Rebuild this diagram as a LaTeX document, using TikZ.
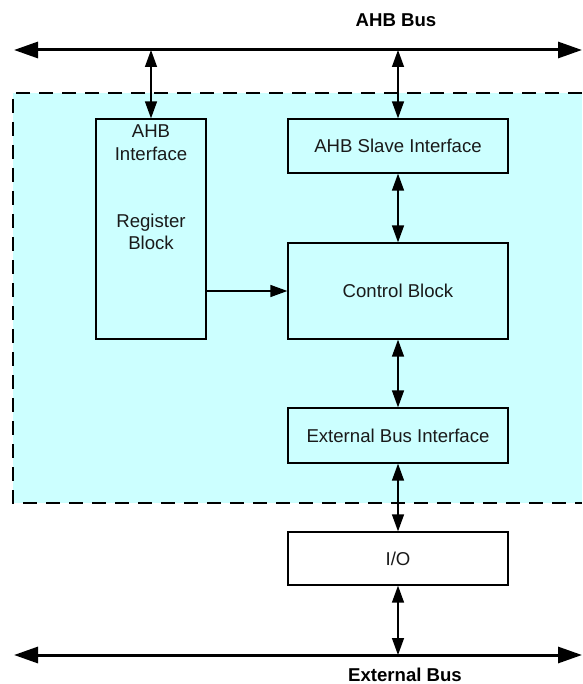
\documentclass[tikz,border=0pt]{standalone}
\usepackage{fontspec}
\setmainfont{Liberation Sans}
\usetikzlibrary{arrows.meta}
\definecolor{panel}{HTML}{CCFFFF}
\definecolor{ink}{HTML}{1A1A1A}
\tikzset{
  blk/.style={draw=black, line width=1.3pt, minimum width=220pt, inner sep=0pt, font=\fontsize{18.6}{22}\selectfont, text=ink},
  lbl/.style={inner sep=0pt, font=\fontsize{18.6}{22}\selectfont, text=ink, anchor=base},
  busline/.style={line width=3pt, {Triangle[length=24pt,width=16pt]}-{Triangle[length=24pt,width=16pt]}},
  link/.style={line width=1.4pt, {Triangle[length=17pt,width=12pt]}-{Triangle[length=17pt,width=12pt]}},
  onelink/.style={line width=1.4pt, -{Triangle[length=17pt,width=12pt]}},
  buslbl/.style={inner sep=0pt, font=\fontsize{18.6}{22}\selectfont\bfseries, text=black, anchor=base}
}
\begin{document}
\begin{tikzpicture}[x=1pt,y=-1pt]
\useasboundingbox (0,0) rectangle (582,684);
% shaded module area
\fill[panel] (13,93) rectangle (582,503);
\draw[line width=2pt, dash pattern=on 14pt off 9pt] (582,93) -- (13,93) -- (13,503) -- (582,503);
% buses
\coordinate (ahbL) at (14,50);
\coordinate (ahbR) at (582,50);
\coordinate (extL) at (14,655);
\coordinate (extR) at (582,655);
\coordinate (ahbA) at (151,50);
\coordinate (ahbB) at (398,50);
\coordinate (extA) at (398,655);
\draw[busline] (ahbL) -- (ahbR);
\draw[busline] (extL) -- (extR);
\node[buslbl] (ahbtxt) at (396,27) {AHB Bus};
\node[buslbl] (exttxt) at (405,681) {External Bus};
% blocks
\node[blk, fill=panel, minimum width=110pt, minimum height=220pt] (reg) at (151,229) {};
\node[lbl] (r1) at (151,138) {AHB};
\node[lbl] (r2) at (151,160.5) {Interface};
\node[lbl] (r3) at (151,228) {Register};
\node[lbl] (r4) at (151,250) {Block};
\node[blk, fill=panel, minimum height=54pt] (slave) at (398,146) {AHB Slave Interface};
\node[blk, fill=panel, minimum height=96pt] (ctrl) at (398,291) {Control Block};
\node[blk, fill=panel, minimum height=55pt] (ebi) at (398,435.5) {External Bus Interface};
\node[blk, fill=white, minimum height=53pt] (io) at (398,558.5) {I/O};
% connectors
\draw[link] (ahbA) -- (reg.north);
\draw[link] (ahbB) -- (slave.north);
\draw[link] (slave.south) -- (ctrl.north);
\draw[link] (ctrl.south) -- (ebi.north);
\draw[link] (ebi.south) -- (io.north);
\draw[link] (io.south) -- (extA);
\draw[onelink] (reg.east |- 0,291) -- (ctrl.west);
\end{tikzpicture}
\end{document}
